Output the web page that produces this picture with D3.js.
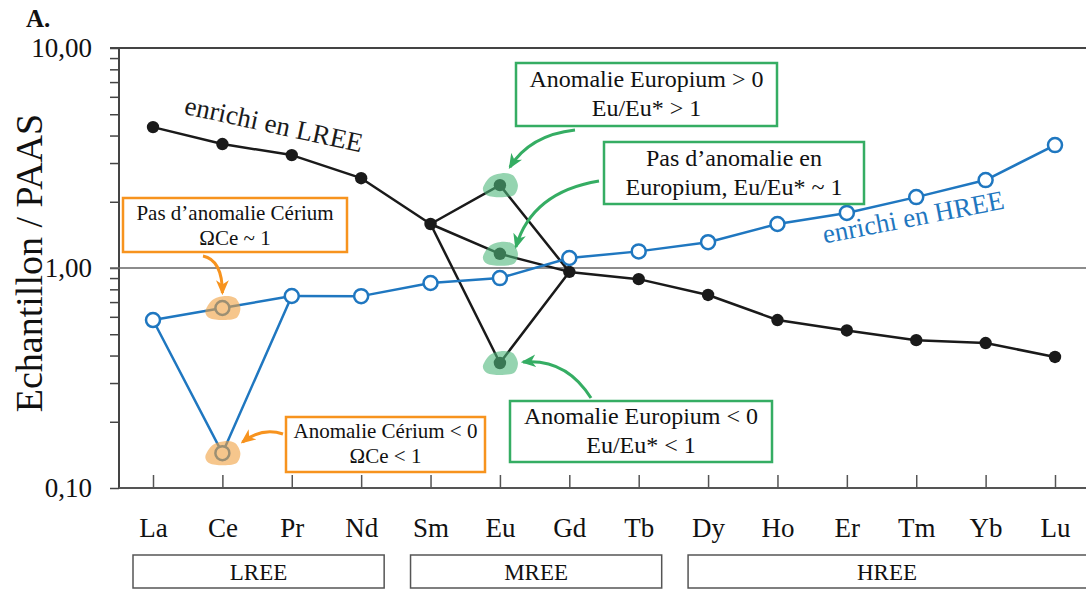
<!DOCTYPE html>
<html><head><meta charset="utf-8">
<script src="https://cdn.jsdelivr.net/npm/d3@7"></script>
<style>
html,body{margin:0;padding:0;background:#fff;}
svg{display:block;}
svg text{font-family:"Liberation Serif" !important;}
</style></head>
<body><svg id="chart" width="1086" height="590"></svg>
<script>
// ---------- data ----------
const categories = ["La","Ce","Pr","Nd","Sm","Eu","Gd","Tb","Dy","Ho","Er","Tm","Yb","Lu"];
// black series "enrichi en LREE" (Eu = no anomaly case)
const lreeValues = [4.37, 3.66, 3.26, 2.56, 1.585, 1.16, 0.96, 0.89, 0.754, 0.58, 0.52, 0.47, 0.456, 0.394];
// Eu variants: positive anomaly, no anomaly, negative anomaly
const euVariants = [2.38, 1.16, 0.37];
// blue series "enrichi en HREE" (Ce = no anomaly case)
const hreeValues = [0.58, 0.658, 0.746, 0.745, 0.855, 0.90, 1.11, 1.19, 1.31, 1.585, 1.78, 2.1, 2.51, 3.62];
// Ce variants: no anomaly, negative anomaly
const ceVariants = [0.658, 0.144];
const yMajorTicks = [0.1, 1, 10];
const yMajorLabels = ["0,10", "1,00", "10,00"];
const groupNames = ["LREE", "MREE", "HREE"];
const groupFrom = ["La", "Sm", "Dy"];
const groupTo = ["Nd", "Tb", "Lu"];

// ---------- setup ----------
const W = 1086, H = 590;
const SERIF = "Liberation Serif";
const svg = d3.select("#chart");
const x = d3.scalePoint().domain(categories).range([153, 1055]);
const y = d3.scaleLog().domain([0.1, 10]).range([488, 48]);
const axisLeftX = 119;
const BLACK = "#1a1a1a", BLUE = "#1f77c0", ORANGE = "#f7931e", GREEN = "#35ad63";

// y minor ticks
const yAllTicks = [];
[0.1, 1].forEach(d => { for (let k = 1; k <= 9; k++) yAllTicks.push(+(d * k).toFixed(3)); });
yAllTicks.push(10);

const yAxis = d3.axisLeft(y).tickValues(yAllTicks).tickSize(9).tickPadding(18)
  .tickFormat(d => { const i = yMajorTicks.findIndex(m => Math.abs(m - d) < 1e-9); return i >= 0 ? yMajorLabels[i] : ""; });
const gy = svg.append("g").attr("transform", `translate(${axisLeftX},0)`).call(yAxis);
gy.attr("font-family", SERIF);
gy.select(".domain").remove();
gy.selectAll(".tick line").attr("stroke", "#444").attr("stroke-width", 1.5);
gy.selectAll(".tick text").attr("font-size", 27).attr("fill", "#111");
svg.append("line").attr("x1", axisLeftX).attr("x2", axisLeftX).attr("y1", y(10)).attr("y2", y(0.1))
  .attr("stroke", "#444").attr("stroke-width", 2);

// top line and 1,00 reference line
svg.append("line").attr("x1", axisLeftX - 9).attr("x2", W).attr("y1", y(10)).attr("y2", y(10)).attr("stroke", "#444").attr("stroke-width", 2);
svg.append("line").attr("x1", axisLeftX - 9).attr("x2", W).attr("y1", y(1)).attr("y2", y(1)).attr("stroke", "#666").attr("stroke-width", 1.5);

// x axis
const xAxis = d3.axisBottom(x).tickSizeInner(-13).tickSizeOuter(0).tickPadding(30);
const gx = svg.append("g").attr("transform", `translate(0,${y(0.1)})`).call(xAxis);
gx.attr("font-family", SERIF);
gx.select(".domain").remove();
gx.selectAll(".tick line").attr("stroke", "#555").attr("stroke-width", 1.5);
gx.selectAll(".tick text").attr("font-size", 27).attr("fill", "#111");
svg.append("line").attr("x1", axisLeftX).attr("x2", W).attr("y1", y(0.1)).attr("y2", y(0.1)).attr("stroke", "#555").attr("stroke-width", 2);

// y title
svg.append("text").attr("transform", `translate(42,263) rotate(-90)`).attr("text-anchor", "middle")
  .attr("font-size", 38).attr("fill", "#111").text("Echantillon / PAAS");
// panel letter
svg.append("text").attr("x", 26).attr("y", 27).attr("font-size", 25).attr("font-weight", "bold")
  .attr("fill", "#111").text("A.");

// group boxes
groupNames.forEach((g, i) => {
  const x0 = x(groupFrom[i]) - 20;
  const x1 = i === groupNames.length - 1 ? W + 5 : x(groupTo[i]) + 23;
  svg.append("rect").attr("x", x0).attr("y", 555).attr("width", x1 - x0).attr("height", 33)
    .attr("fill", "none").attr("stroke", "#555").attr("stroke-width", 1.5);
  svg.append("text").attr("x", (x0 + Math.min(x1, W)) / 2).attr("y", 580).attr("text-anchor", "middle")
    .attr("font-size", 23).attr("fill", "#111").text(g);
});

// ---------- lines ----------
const line = d3.line().x(d => x(d[0])).y(d => y(d[1]));
const iEu = categories.indexOf("Eu"), iCe = categories.indexOf("Ce");
const pairs = (vals) => categories.map((c, i) => [c, vals[i]]);
const lreePairs = pairs(lreeValues), hreePairs = pairs(hreeValues);

// black
const blackG = svg.append("g").attr("fill", "none").attr("stroke", BLACK).attr("stroke-width", 2.5).attr("stroke-linejoin", "round");
blackG.append("path").attr("d", line(lreePairs.slice(0, iEu)));
euVariants.forEach(v => blackG.append("path").attr("d", line([lreePairs[iEu - 1], ["Eu", v], lreePairs[iEu + 1]])));
blackG.append("path").attr("d", line(lreePairs.slice(iEu + 1)));
// blue
const blueG = svg.append("g").attr("fill", "none").attr("stroke", BLUE).attr("stroke-width", 2.5).attr("stroke-linejoin", "round");
ceVariants.forEach(v => blueG.append("path").attr("d", line([hreePairs[iCe - 1], ["Ce", v], hreePairs[iCe + 1]])));
blueG.append("path").attr("d", line(hreePairs.slice(iCe + 1)));

// points
const blackPts = lreePairs.filter((d, i) => i !== iEu).concat(euVariants.map(v => ["Eu", v]));
svg.append("g").selectAll("circle").data(blackPts).join("circle")
  .attr("cx", d => x(d[0])).attr("cy", d => y(d[1])).attr("r", 6.2).attr("fill", BLACK);
const bluePts = hreePairs.filter((d, i) => i !== iCe).concat(ceVariants.map(v => ["Ce", v]));
svg.append("g").selectAll("circle").data(bluePts).join("circle")
  .attr("cx", d => x(d[0])).attr("cy", d => y(d[1])).attr("r", 7).attr("fill", "#fff").attr("stroke", BLUE).attr("stroke-width", 2.5);

// highlight blobs
const blobOffsets = [[-17, 3], [-10, -8], [2, -12], [13, -10], [18, 0], [14, 10], [0, 12], [-13, 10]];
const blob = d3.line().curve(d3.curveCardinalClosed.tension(0.1));
function drawBlob(cx, cy, color) {
  svg.append("path").attr("d", blob(blobOffsets.map(o => [cx + o[0], cy + o[1]])))
    .attr("fill", color).attr("fill-opacity", 0.6);
}
ceVariants.forEach(v => drawBlob(x("Ce"), y(v), "#f0a040"));
euVariants.forEach(v => drawBlob(x("Eu"), y(v), "#4fb77c"));

// ---------- arrows ----------
const defs = svg.append("defs");
function marker(id, color) {
  defs.append("marker").attr("id", id).attr("viewBox", "0 0 14 12").attr("refX", 12).attr("refY", 6)
    .attr("markerWidth", 15).attr("markerHeight", 13).attr("markerUnits", "userSpaceOnUse").attr("orient", "auto")
    .append("path").attr("d", "M0,0 L14,6 L0,12 L4,6 Z").attr("fill", color);
}
marker("arO", ORANGE); marker("arG", GREEN);
function arrow(sx, sy, cx, cy, tx, ty, color, m) {
  svg.append("path").attr("d", `M${sx},${sy} Q${cx},${cy} ${tx},${ty}`).attr("fill", "none")
    .attr("stroke", color).attr("stroke-width", 3).attr("marker-end", `url(#${m})`);
}
const ceX = x("Ce"), euX = x("Eu");
arrow(203, 256, ceX, 260, ceX, y(ceVariants[0]) - 15, ORANGE, "arO");
arrow(283, 434, 262, 427, ceX + 20, y(ceVariants[1]) - 11, ORANGE, "arO");
arrow(575, 130, 530, 135, euX + 10, y(euVariants[0]) - 18, GREEN, "arG");
arrow(599, 181, 532, 192, euX + 16, y(euVariants[1]) - 7, GREEN, "arG");
arrow(591, 398, 566, 358, euX + 23, y(euVariants[2]) - 1, GREEN, "arG");

// ---------- annotation boxes ----------
function box(x0, y0, x1, y1, color, lines, fs) {
  svg.append("rect").attr("x", x0).attr("y", y0).attr("width", x1 - x0).attr("height", y1 - y0)
    .attr("fill", "#fff").attr("stroke", color).attr("stroke-width", 2.5);
  lines.forEach(l => svg.append("text").attr("x", (x0 + x1) / 2).attr("y", l[1]).attr("text-anchor", "middle")
    .attr("font-size", fs).attr("fill", "#111").text(l[0]));
}
box(123, 198, 347, 252, ORANGE, [["Pas d’anomalie Cérium", 220], ["ΩCe ~ 1", 245]], 21);
box(286, 417, 485, 472, ORANGE, [["Anomalie Cérium < 0", 438], ["ΩCe < 1", 463]], 21);
box(516, 63, 777, 126, GREEN, [["Anomalie Europium > 0", 87], ["Eu/Eu* > 1", 116]], 24);
box(604, 142, 864, 204, GREEN, [["Pas d’anomalie en", 166], ["Europium, Eu/Eu* ~ 1", 195]], 24);
box(510, 401, 772, 462, GREEN, [["Anomalie Europium < 0", 424], ["Eu/Eu* < 1", 453]], 24);

// series labels
svg.append("text").attr("transform", "translate(272,133) rotate(12.3)").attr("text-anchor", "middle")
  .attr("font-size", 27).attr("fill", "#1a1a1a").text("enrichi en LREE");
svg.append("text").attr("transform", "translate(915,226) rotate(-11)").attr("text-anchor", "middle")
  .attr("font-size", 27).attr("fill", BLUE).text("enrichi en HREE");

// make sure every text uses the serif face
svg.selectAll("text").style("font-family", SERIF, "important");
</script></body></html>
